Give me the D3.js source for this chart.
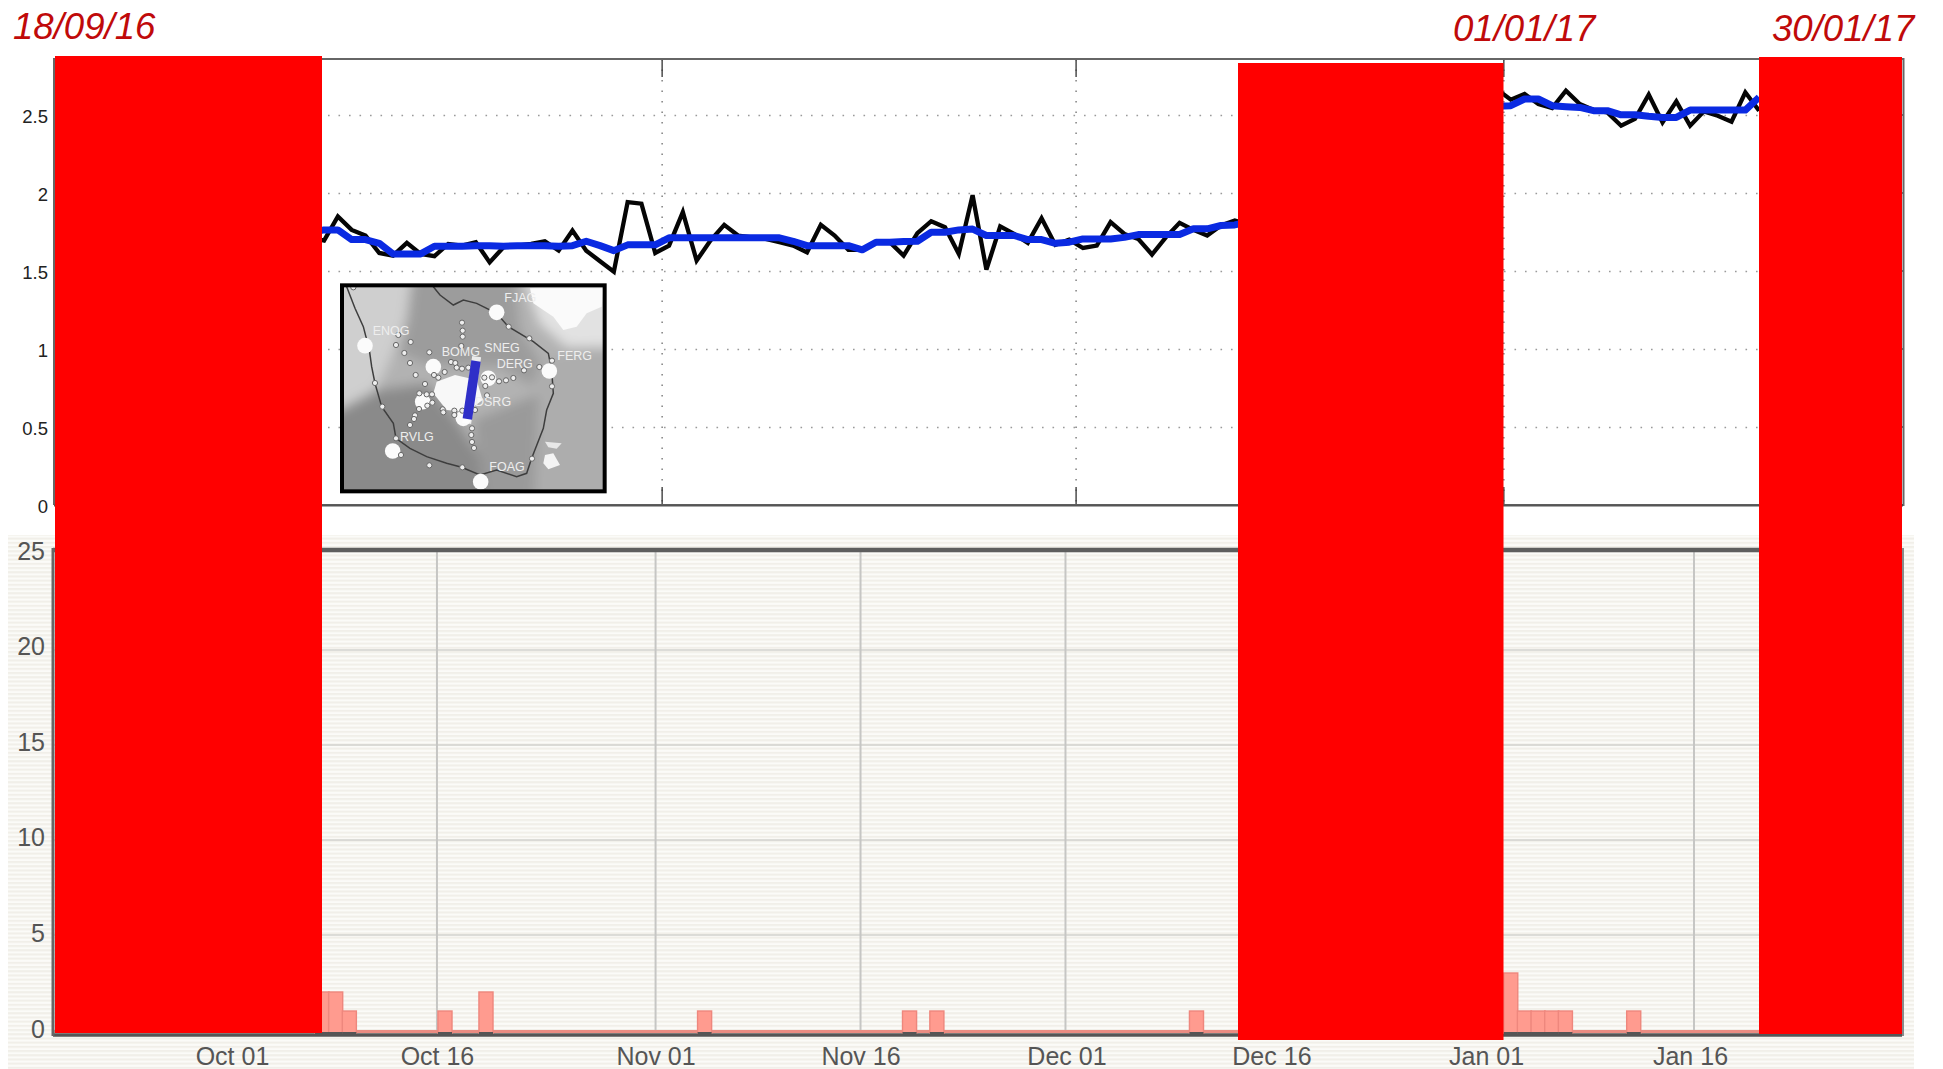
<!DOCTYPE html>
<html><head><meta charset="utf-8">
<script src="https://cdn.jsdelivr.net/npm/d3@7/dist/d3.min.js"></script>
<style>html,body{margin:0;padding:0;background:#fff}svg{display:block}text{font-family:"Liberation Sans",Arial,sans-serif}</style>
</head><body><svg id="c" width="1943" height="1069"></svg>
<script>
// ---------- data ----------
const seg1Start = "2016-10-06", seg2Start = "2016-12-31";
const dailySeg1 = [1.72,1.70,1.854,1.768,1.732,1.62,1.603,1.685,1.614,1.60,1.678,1.667,1.689,1.56,1.657,1.667,1.678,1.695,1.635,1.764,1.635,1.567,1.50,1.946,1.936,1.62,1.667,1.882,1.571,1.70,1.80,1.732,1.72,1.71,1.689,1.667,1.624,1.80,1.732,1.64,1.64,1.689,1.689,1.603,1.747,1.824,1.785,1.614,1.99,1.513,1.79,1.742,1.685,1.843,1.672,1.706,1.652,1.667,1.818,1.742,1.71,1.61,1.72,1.813,1.768,1.732,1.796,1.828,1.80];
const smoothSeg1 = [1.75,1.768,1.768,1.706,1.706,1.682,1.614,1.614,1.614,1.663,1.663,1.663,1.667,1.667,1.663,1.667,1.667,1.667,1.663,1.667,1.695,1.667,1.635,1.672,1.672,1.672,1.717,1.717,1.717,1.717,1.717,1.717,1.717,1.717,1.717,1.695,1.667,1.667,1.667,1.667,1.64,1.689,1.689,1.693,1.695,1.753,1.753,1.768,1.773,1.732,1.732,1.732,1.706,1.706,1.682,1.689,1.71,1.71,1.71,1.72,1.738,1.738,1.738,1.738,1.775,1.775,1.796,1.80,1.82];
const dailySeg2 = [2.67,2.603,2.639,2.575,2.549,2.66,2.575,2.536,2.521,2.436,2.479,2.635,2.457,2.592,2.436,2.528,2.5,2.462,2.65,2.532];
const smoothSeg2 = [2.56,2.564,2.607,2.607,2.564,2.558,2.553,2.532,2.532,2.506,2.506,2.496,2.489,2.489,2.536,2.536,2.536,2.536,2.536,2.618];
const topYTicks = [0,0.5,1,1.5,2,2.5];
const topYLabels = ["0","0.5","1","1.5","2","2.5"];
const topGridDates = ["2016-11-01","2016-12-01","2017-01-01"];
const eventDates = ["2016-10-07","2016-10-08","2016-10-09","2016-10-16","2016-10-19","2016-11-04","2016-11-19","2016-11-21","2016-12-10","2017-01-02","2017-01-03","2017-01-04","2017-01-05","2017-01-06","2017-01-11"];
const eventCounts = [2,2,1,1,2,1,1,1,1,3,1,1,1,1,1];
const botYTicks = [0,5,10,15,20,25];
const botXDates = ["2016-10-01","2016-10-16","2016-11-01","2016-11-16","2016-12-01","2016-12-16","2017-01-01","2017-01-16"];
const dateLabels = ["18/09/16","01/01/17","30/01/17"];

// inset map (in the inset's own image units)
const mapContour = [[140,320],[165,385],[190,440],[208,510],[215,560],[225,610],[245,680],[280,730],[288,775],[330,805],[380,830],[440,850],[485,862],[540,885],[590,870],[650,890],[680,880],[695,835],[730,745],[740,690],[760,640],[755,570],[745,520],[700,485],[625,440],[590,400],[530,370],[490,360],[460,375],[420,345],[400,320]];
const mapBig = [[195,497],[400,560],[590,397],[748,573],[278,813],[542,905],[490,715],[565,595],[368,665]];
const mapSmall = [[160,322],[486,428],[488,452],[488,470],[295,465],[332,486],[288,495],[313,519],[330,549],[347,585],[388,517],[484,498],[453,546],[466,549],[470,563],[486,566],[505,563],[402,585],[415,593],[434,576],[375,612],[358,640],[380,643],[396,643],[397,668],[382,677],[357,687],[345,706],[342,717],[330,735],[428,688],[430,697],[463,692],[463,705],[487,692],[525,690],[553,593],[576,592],[597,604],[618,601],[640,594],[672,571],[718,561],[756,542],[688,475],[626,440],[556,618],[561,646],[756,619],[225,609],[247,680],[288,775],[303,825],[388,856],[487,862],[696,836],[516,745],[514,765],[516,786],[522,804]];
const mapLabels = ["ENOG","FJAG","BOMG","SNEG","DERG","FERG","DSRG","RVLG","FOAG"];
const mapLabelPos = [[218,465],[613,365],[425,528],[553,516],[590,563],[772,540],[525,677],[300,782],[568,873]];

// ---------- setup ----------
const svg = d3.select("#c");
const parse = d3.utcParse("%Y-%m-%d");
const DAY = 864e5;
const defs = svg.append("defs");
const pat = defs.append("pattern").attr("id","stripes").attr("patternUnits","userSpaceOnUse").attr("width",8).attr("height",4.2);
pat.append("rect").attr("width",8).attr("height",4.2).attr("fill","#fbfbf8");
pat.append("rect").attr("y",0).attr("width",8).attr("height",2.1).attr("fill","#f1efe9");
defs.append("filter").attr("id","soft").append("feGaussianBlur").attr("stdDeviation",0.7);
defs.append("filter").attr("id","soft2").append("feGaussianBlur").attr("stdDeviation",6);
defs.append("clipPath").attr("id","mapclip").append("rect").attr("x",342).attr("y",285).attr("width",263).attr("height",206);

const xTop = d3.scaleUtc().domain([parse("2016-09-18"),parse("2017-01-30")]).range([55,1904]);
const yTop = d3.scaleLinear().domain([0,2.859]).range([505,59]);
const xBot = d3.scaleUtc().domain([parse("2016-10-01"),parse("2017-01-16")]).range([232,1694]);
const yBot = d3.scaleLinear().domain([0,25]).range([1030,555]);
const yBotLab = d3.scaleLinear().domain([0,25]).range([1029,551]);

// ---------- top panel ----------
const topG = svg.append("g");
topG.append("g").selectAll("line").data(topYTicks.filter(v=>v>0)).join("line")
  .attr("x1",55).attr("x2",1904).attr("y1",d=>yTop(d)+0.5).attr("y2",d=>yTop(d)+0.5)
  .attr("stroke","#9a9a9a").attr("stroke-width",1.6).attr("stroke-dasharray","1.6 8.9");
topG.append("g").selectAll("line").data(topGridDates.map(parse)).join("line")
  .attr("x1",d=>xTop(d)).attr("x2",d=>xTop(d)).attr("y1",59).attr("y2",505)
  .attr("stroke","#777").attr("stroke-width",1.4).attr("stroke-dasharray","1.6 8.9");
topG.append("g").selectAll("path").data(topGridDates.map(parse)).join("path")
  .attr("d",d=>`M${xTop(d)},59V77M${xTop(d)},505V487`).attr("stroke","#333").attr("stroke-width",1.3).attr("fill","none");
topG.append("path").attr("d","M54,505V59H1903.5V505H54").attr("fill","none").attr("stroke","#666").attr("stroke-width",2);
topG.append("line").attr("x1",54).attr("x2",1903).attr("y1",505.5).attr("y2",505.5).attr("stroke","#555").attr("stroke-width",2);
topG.append("g").selectAll("line").data(topYTicks).join("line")
  .attr("x1",1897).attr("x2",1903).attr("y1",d=>yTop(d)).attr("y2",d=>yTop(d)).attr("stroke","#444").attr("stroke-width",1.3);

const axL = d3.axisLeft(yTop).tickValues(topYTicks).tickSize(0).tickPadding(0).tickFormat((d,i)=>topYLabels[i]);
const gL = topG.append("g").attr("transform","translate(48,1.5)").call(axL);
gL.select(".domain").remove();
gL.selectAll("text").attr("font-size",18.5).attr("fill","#222").attr("font-family","Liberation Sans");

const lineGen = d3.line().x(d=>xTop(d.t)).y(d=>yTop(d.v)+0.7);
const toPts = (start,vals)=>vals.map((v,i)=>({t:new Date(+parse(start)+(i+0.5)*DAY),v}));
const lines = topG.append("g").attr("fill","none").attr("stroke-linejoin","miter");
[dailySeg1,dailySeg2].forEach((s,i)=>lines.append("path").attr("d",lineGen(toPts(i?seg2Start:seg1Start,s)))
  .attr("stroke","#050505").attr("stroke-width",4.3));
[smoothSeg1,smoothSeg2].forEach((s,i)=>lines.append("path").attr("d",lineGen(toPts(i?seg2Start:seg1Start,s)))
  .attr("stroke","#0a2ae2").attr("stroke-width",7).attr("stroke-linejoin","round"));

// ---------- inset map ----------
const mx = d3.scaleLinear().domain([0,1500]).range([300,800]);
const my = d3.scaleLinear().domain([0,1020]).range([180,520]);
const mline = d3.line().x(d=>mx(d[0])).y(d=>my(d[1]));
const inset = svg.append("g");
inset.append("rect").attr("x",mx(120)).attr("y",my(310)).attr("width",mx(920)-mx(120)).attr("height",my(940)-my(310)).attr("fill","#fff");
const mapG = inset.append("g").attr("clip-path","url(#mapclip)");
const bgG = mapG.append("g").attr("filter","url(#soft2)");
bgG.append("rect").attr("x",mx(60)).attr("y",my(260)).attr("width",mx(980)-mx(60)).attr("height",my(990)-my(260)).attr("fill","#b2b2b2");
const regions = [
 {c:"#cfcfcf",p:[[60,260],[340,260],[320,420],[260,560],[230,620],[200,680],[60,700]]},
 {c:"#9c9c9c",p:[[340,260],[640,260],[660,450],[720,540],[700,620],[600,560],[400,560],[300,520],[320,420]]},
 {c:"#8a8a8a",p:[[60,720],[230,630],[380,610],[470,720],[560,860],[560,990],[60,990]]},
 {c:"#9a9a9a",p:[[520,720],[720,640],[760,700],[700,990],[560,990]]},
 {c:"#adadad",p:[[720,540],[980,480],[980,990],[700,990]]},
 {c:"#e2e2e2",p:[[660,260],[980,260],[980,500],[800,500],[720,430]]},
];
bgG.selectAll(".r").data(regions).join("path").attr("class","r").attr("d",d=>mline(d.p)+"Z").attr("fill",d=>d.c);
const fg = mapG.append("g").attr("filter","url(#soft)");
const blobs = [
 {c:"#fafafa",p:[[690,325],[910,325],[905,380],[860,400],[830,440],[790,450],[760,410],[700,370]]},
 {c:"#f4f4f4",p:[[735,825],[760,820],[780,855],[745,868],[730,850]]},
 {c:"#e8e8e8",p:[[735,785],[785,790],[770,806],[745,802]]},
 {c:"#f8f8f8",p:[[410,605],[465,585],[530,600],[548,660],[500,695],[440,690],[400,640]]},
];
fg.selectAll(".b").data(blobs).join("path").attr("class","b").attr("d",d=>mline(d.p)+"Z").attr("fill",d=>d.c);
fg.append("path").attr("d",mline(mapContour)).attr("fill","none").attr("stroke","#3e3e3e").attr("stroke-width",1.5);
fg.selectAll(".big").data(mapBig).join("circle").attr("class","big").attr("cx",d=>mx(d[0])).attr("cy",d=>my(d[1])).attr("r",7.8).attr("fill","#fbfbfb");
fg.selectAll(".small").data(mapSmall).join("circle").attr("class","small").attr("cx",d=>mx(d[0])).attr("cy",d=>my(d[1])).attr("r",2.6).attr("fill","#eee").attr("stroke","#666").attr("stroke-width",1);
mapG.selectAll(".lab").data(mapLabels).join("text").attr("class","lab").attr("x",(d,i)=>mx(mapLabelPos[i][0])).attr("y",(d,i)=>my(mapLabelPos[i][1]))
  .attr("font-size",12.5).attr("fill","#eeeeee").text(d=>d);
mapG.append("path").attr("d",mline([[528,543],[502,717]])).attr("stroke","#fff").attr("stroke-width",9).attr("stroke-linecap","square").attr("opacity",.8);
mapG.append("path").attr("d",mline([[528,543],[502,717]])).attr("stroke","#2f2fc8").attr("stroke-width",9.5);
inset.append("rect").attr("x",mx(126)).attr("y",my(316)).attr("width",mx(914)-mx(126)).attr("height",my(934)-my(316)).attr("fill","none").attr("stroke","#000").attr("stroke-width",4);

// ---------- bottom panel ----------
const bot = svg.append("g");
bot.append("rect").attr("x",8).attr("y",535).attr("width",1906).attr("height",534).attr("fill","url(#stripes)");
bot.append("g").selectAll("line").data(botYTicks.filter(v=>v>0&&v<25)).join("line")
  .attr("x1",53).attr("x2",1902).attr("y1",d=>yBot(d)).attr("y2",d=>yBot(d)).attr("stroke","#d2d2ce").attr("stroke-width",1.6);
bot.append("g").selectAll("line").data(botXDates.map(parse)).join("line")
  .attr("x1",d=>xBot(d)).attr("x2",d=>xBot(d)).attr("y1",552).attr("y2",1032).attr("stroke","#c6c6c4").attr("stroke-width",2);
// baseline strip and frame
bot.append("line").attr("x1",53).attr("x2",1902).attr("y1",yBot(0)+1.5).attr("y2",yBot(0)+1.5).attr("stroke","#ea8c82").attr("stroke-width",3);
bot.append("line").attr("x1",53).attr("x2",1902).attr("y1",yBot(0)+5).attr("y2",yBot(0)+5).attr("stroke","#555").attr("stroke-width",3.6);
bot.append("line").attr("x1",53).attr("x2",1902).attr("y1",550).attr("y2",550).attr("stroke","#5e5e5e").attr("stroke-width",4.5);
bot.append("line").attr("x1",53).attr("x2",53).attr("y1",548).attr("y2",1036).attr("stroke","#666").attr("stroke-width",3);
bot.append("line").attr("x1",1903).attr("x2",1903).attr("y1",548).attr("y2",1036).attr("stroke","#8a8a8a").attr("stroke-width",2);
const step = xBot(new Date(+parse("2016-10-02")))-xBot(parse("2016-10-01"));
bot.append("g").selectAll("rect").data(eventDates.map((d,i)=>({t:parse(d),v:eventCounts[i]}))).join("rect")
  .attr("x",d=>xBot(d.t)+1).attr("width",step+0.4).attr("y",d=>yBot(d.v)).attr("height",d=>yBot(0)-yBot(d.v)+3)
  .attr("fill","#ff9b8f").attr("stroke","#ee877d").attr("stroke-width",1.4);
bot.append("g").selectAll("rect").data(eventDates.map(parse)).join("rect")
  .attr("x",d=>xBot(d)+1).attr("width",step+0.4).attr("y",yBot(0)+2).attr("height",2).attr("fill","#555");

const axY = d3.axisLeft(yBotLab).tickValues(botYTicks).tickSize(0).tickPadding(0);
const gY = bot.append("g").attr("transform","translate(45,0)").call(axY);
gY.select(".domain").remove();
gY.selectAll("text").attr("font-size",25).attr("fill","#555").attr("font-family","Liberation Sans");
const axX = d3.axisBottom(xBot).tickValues(botXDates.map(parse)).tickSize(0).tickPadding(0).tickFormat(d3.utcFormat("%b %d"));
const gX = bot.append("g").attr("transform","translate(0,1047)").call(axX);
gX.select(".domain").remove();
const xLabelNudge = [0,0,0,0,1,1,-3,-4];
gX.selectAll("text").attr("dx",(d,i)=>xLabelNudge[i]).attr("font-size",25).attr("fill","#555").attr("font-family","Liberation Sans");

// ---------- redaction blocks ----------
const blocks = [[55,56,322,1033],[1238,63,1503.5,1040],[1759,57,1902,1034]];
svg.append("g").selectAll("rect").data(blocks).join("rect")
  .attr("x",d=>d[0]).attr("y",d=>d[1]).attr("width",d=>d[2]-d[0]).attr("height",d=>d[3]-d[1]).attr("fill","#ff0000");

// ---------- date captions ----------
const labelX = [13,1453,1772], labelY = [39,41,41];
svg.append("g").selectAll("text").data(dateLabels).join("text")
  .attr("x",(d,i)=>labelX[i]).attr("y",(d,i)=>labelY[i]).attr("font-size",36.6).attr("font-style","italic").attr("fill","#c00a0a").text(d=>d);
</script></body></html>
